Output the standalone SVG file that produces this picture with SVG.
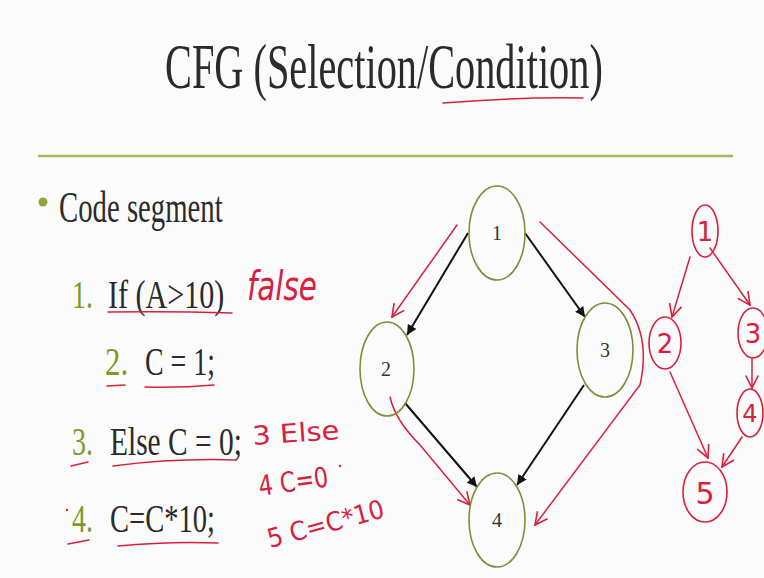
<svg xmlns="http://www.w3.org/2000/svg" width="764" height="578" viewBox="0 0 764 578">
<defs>
<style>
.t{font-family:"Liberation Serif","DejaVu Serif",serif;fill:#2b2b2b}
.g{font-family:"Liberation Serif","DejaVu Serif",serif;fill:#7b9a2c}
.hw{font-family:"DejaVu Sans","Liberation Sans",sans-serif;fill:#d8203c;font-weight:normal}
.node{fill:none;stroke:#7e8f3c;stroke-width:1.6}
.lbl{font-family:"Liberation Serif",serif;font-size:20px;fill:#333;text-anchor:middle}
.edge{stroke:#111;stroke-width:2;fill:none}
.red{stroke:#d8203c;stroke-width:1.5;fill:none;stroke-linecap:round}
.rnode{fill:none;stroke:#d8203c;stroke-width:1.6}
.rlbl{font-family:"DejaVu Sans",sans-serif;fill:#d8203c;text-anchor:middle}
</style>
<marker id="ah" viewBox="0 0 10 10" refX="10" refY="5" markerWidth="5" markerHeight="5" orient="auto" markerUnits="strokeWidth">
<path d="M0,0 L10,5 L0,10 z" fill="#111"/>
</marker>
<marker id="rv" viewBox="0 0 12 12" refX="11" refY="6" markerWidth="10" markerHeight="10" orient="auto" markerUnits="strokeWidth">
<path d="M1,1 L11,6 L1,11" fill="none" stroke="#d8203c" stroke-width="1.3"/>
</marker>
</defs>
<rect width="764" height="578" fill="#fbfbfb"/>

<!-- title -->
<text class="t" font-size="64" transform="translate(165,88) scale(0.63,1)" textLength="695" lengthAdjust="spacingAndGlyphs">CFG (Selection/Condition)</text>
<path class="red" d="M443,103 Q515,97 583,98"/>
<line x1="38" y1="156" x2="733" y2="156" stroke="#a6b95a" stroke-width="2.5"/>

<!-- bullet list -->
<circle cx="43" cy="202" r="4.5" fill="#8aa83a"/>
<text class="t" font-size="44" transform="translate(59,222) scale(0.655,1)" textLength="250" lengthAdjust="spacingAndGlyphs">Code segment</text>

<text class="g" font-size="40" transform="translate(72,308) scale(0.7,1)">1.</text>
<text class="t" font-size="40" transform="translate(108,308) scale(0.75,1)" textLength="155" lengthAdjust="spacingAndGlyphs">If (A&gt;10)</text>
<path class="red" d="M108,312 Q170,311 232,313"/>
<text class="hw" font-size="40" font-style="italic" transform="translate(247,300) scale(0.72,1)" textLength="97" lengthAdjust="spacingAndGlyphs">false</text>

<text class="g" font-size="40" transform="translate(105,375) scale(0.77,1)">2.</text>
<text class="t" font-size="40" transform="translate(145,375) scale(0.7,1)" textLength="100" lengthAdjust="spacingAndGlyphs">C = 1;</text>
<path class="red" d="M107,386 L125,385"/>
<path class="red" d="M145,387 Q180,388 214,385"/>

<text class="g" font-size="40" transform="translate(72,455) scale(0.7,1)">3.</text>
<text class="t" font-size="40" transform="translate(110,455) scale(0.737,1)" textLength="179" lengthAdjust="spacingAndGlyphs">Else C = 0;</text>
<path class="red" d="M71,466 L88,462"/>
<path class="red" d="M113,466 Q175,458 236,460"/>
<text class="hw" x="253" y="445" font-size="26" textLength="87" lengthAdjust="spacingAndGlyphs" transform="rotate(-4 253 445)">3 Else</text>
<text class="hw" x="260" y="496" font-size="28" textLength="70" lengthAdjust="spacingAndGlyphs" transform="rotate(-8 260 496)">4 C=0</text>
<circle cx="340" cy="466" r="1.2" fill="#d8203c"/>
<text class="hw" x="270" y="548" font-size="26" textLength="120" lengthAdjust="spacingAndGlyphs" transform="rotate(-15 270 548)">5 C=C*10</text>

<circle cx="67" cy="510" r="1.2" fill="#d8203c"/>
<text class="g" font-size="40" transform="translate(72,532) scale(0.7,1)">4.</text>
<text class="t" font-size="40" transform="translate(110,532) scale(0.714,1)" textLength="147" lengthAdjust="spacingAndGlyphs">C=C*10;</text>
<path class="red" d="M68,544 L89,540"/>
<path class="red" d="M118,546 Q170,541 218,543"/>

<!-- connectors -->
<g id="edges">
<line class="edge" x1="468" y1="233" x2="407" y2="335" marker-end="url(#ah)"/>
<line class="edge" x1="525" y1="233" x2="585" y2="317" marker-end="url(#ah)"/>
<line class="edge" x1="405" y1="403" x2="477" y2="487" marker-end="url(#ah)"/>
<line class="edge" x1="584" y1="385" x2="517" y2="485" marker-end="url(#ah)"/>
<!-- red annotation paths -->
<path class="red" d="M457,225 L392,317" marker-end="url(#rv)"/>
<path class="red" d="M390,397 Q395,420 420,445 L470,505" marker-end="url(#rv)"/>
<path class="red" d="M540,222 L630,310 Q650,340 640,385 L535,525" marker-end="url(#rv)"/>
<!-- red sketch graph edges -->
<path class="red" d="M690,257 L672,317" marker-end="url(#rv)"/>
<path class="red" d="M710,248 L750,305" marker-end="url(#rv)"/>
<path class="red" d="M752,358 L752,388" marker-end="url(#rv)"/>
<path class="red" d="M670,372 L708,458" marker-end="url(#rv)"/>
<path class="red" d="M742,437 L722,467" marker-end="url(#rv)"/>
</g>

<g id="n1"><ellipse class="node" cx="497" cy="233" rx="28" ry="47"/><text class="lbl" x="497" y="240">1</text></g>
<g id="n2"><ellipse class="node" cx="387" cy="369" rx="27" ry="47"/><text class="lbl" x="386" y="376">2</text></g>
<g id="n3"><ellipse class="node" cx="605" cy="350" rx="28" ry="47"/><text class="lbl" x="605" y="357">3</text></g>
<g id="n4"><ellipse class="node" cx="497" cy="520" rx="28" ry="47"/><text class="lbl" x="497" y="527">4</text></g>

<g id="r1"><ellipse class="rnode" cx="705" cy="231" rx="13" ry="26"/><text class="rlbl" x="705" y="241" font-size="26">1</text></g>
<g id="r2"><ellipse class="rnode" cx="665" cy="343" rx="16" ry="26"/><text class="rlbl" x="665" y="353" font-size="26">2</text></g>
<g id="r3"><ellipse class="rnode" cx="753" cy="333" rx="15" ry="25"/><text class="rlbl" x="753" y="343" font-size="26">3</text></g>
<g id="r4"><ellipse class="rnode" cx="750" cy="413" rx="13" ry="24"/><text class="rlbl" x="750" y="422" font-size="24">4</text></g>
<g id="r5"><ellipse class="rnode" cx="705" cy="492" rx="22" ry="30"/><text class="rlbl" x="705" y="504" font-size="30">5</text></g>
</svg>
